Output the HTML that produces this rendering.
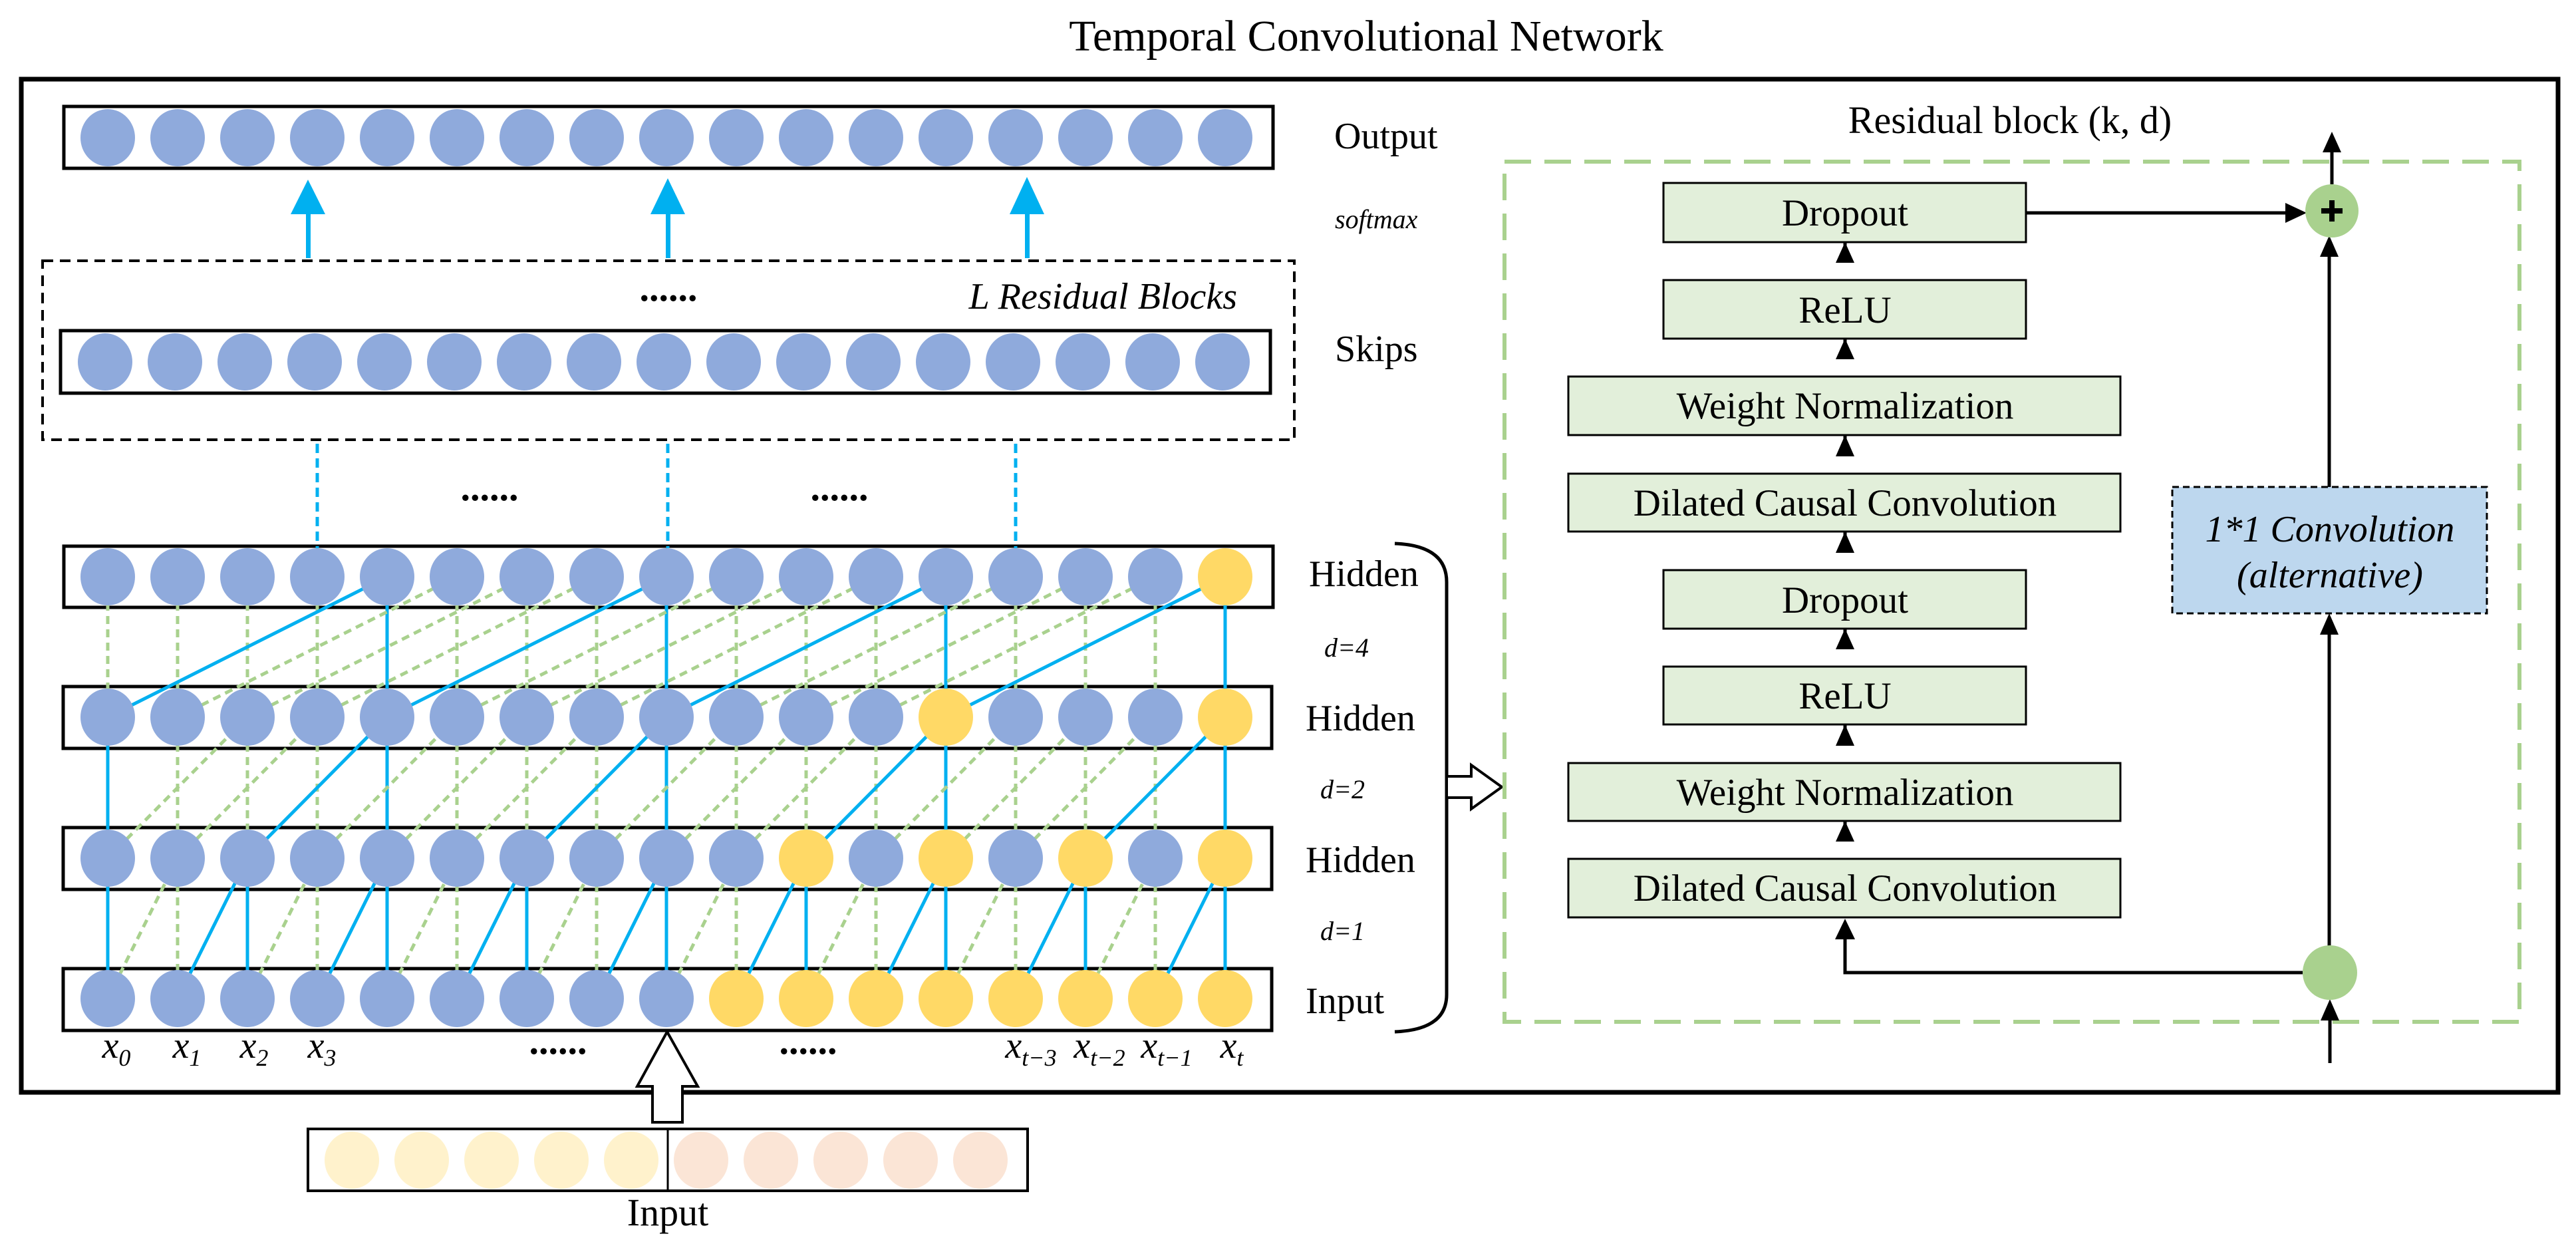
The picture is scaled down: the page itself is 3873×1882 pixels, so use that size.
<!DOCTYPE html>
<html><head><meta charset="utf-8">
<style>
html,body{margin:0;padding:0;background:#fff;}
svg{display:block;}
text{font-family:"Liberation Serif",serif;fill:#000;}
</style></head>
<body>
<svg id="s" width="3873" height="1882" viewBox="0 0 3873 1882" xmlns="http://www.w3.org/2000/svg">
<rect x="0" y="0" width="3873" height="1882" fill="#fff"/>
<text x="2054" y="76" font-size="66" text-anchor="middle">Temporal Convolutional Network</text>
<rect x="32" y="119" width="3814" height="1523" fill="none" stroke="#000" stroke-width="7"/>

<rect x="96" y="160" width="1818" height="93" fill="none" stroke="#000" stroke-width="5"/>
<rect x="64" y="392" width="1882" height="269" fill="none" stroke="#000" stroke-width="4" stroke-dasharray="16,10"/>
<rect x="91" y="497" width="1819" height="94" fill="none" stroke="#000" stroke-width="5"/>
<rect x="96" y="821" width="1818" height="92" fill="none" stroke="#000" stroke-width="5"/>
<rect x="95" y="1032" width="1817" height="93" fill="none" stroke="#000" stroke-width="5"/>
<rect x="95" y="1244" width="1817" height="93" fill="none" stroke="#000" stroke-width="5"/>
<rect x="95" y="1456" width="1817" height="93" fill="none" stroke="#000" stroke-width="5"/>

<g id="lines"></g>
<g id="circles"></g>

<g fill="#00B0F0" stroke="none">
<rect x="460" y="318" width="7" height="70"/><polygon points="463,270 437,322 489,322"/>
<rect x="1001" y="318" width="7" height="70"/><polygon points="1004,268 978,322 1030,322"/>
<rect x="1541" y="318" width="7" height="70"/><polygon points="1544,266 1518,322 1570,322"/>
</g>
<g stroke="#00B0F0" stroke-width="5" stroke-dasharray="14,8">
<line x1="477" y1="667" x2="477" y2="824"/>
<line x1="1004" y1="667" x2="1004" y2="824"/>
<line x1="1527" y1="667" x2="1527" y2="824"/>
</g>
<text x="1005" y="452" font-size="58" text-anchor="middle" font-weight="bold">......</text>
<text x="736" y="752" font-size="58" text-anchor="middle" font-weight="bold">......</text>
<text x="1262" y="752" font-size="58" text-anchor="middle" font-weight="bold">......</text>
<text x="1860" y="464" font-size="56" font-style="italic" text-anchor="end">L Residual Blocks</text>

<g font-size="56" font-style="italic">
<text x="175" y="1590" text-anchor="middle">x<tspan font-size="36" dy="12">0</tspan></text>
<text x="281" y="1590" text-anchor="middle">x<tspan font-size="36" dy="12">1</tspan></text>
<text x="382" y="1590" text-anchor="middle">x<tspan font-size="36" dy="12">2</tspan></text>
<text x="484" y="1590" text-anchor="middle">x<tspan font-size="36" dy="12">3</tspan></text>
<text x="1550" y="1590" text-anchor="middle">x<tspan font-size="36" dy="12">t−3</tspan></text>
<text x="1653" y="1590" text-anchor="middle">x<tspan font-size="36" dy="12">t−2</tspan></text>
<text x="1754" y="1590" text-anchor="middle">x<tspan font-size="36" dy="12">t−1</tspan></text>
<text x="1852" y="1590" text-anchor="middle">x<tspan font-size="36" dy="12">t</tspan></text>
</g>
<text x="839" y="1584" font-size="58" text-anchor="middle" font-weight="bold">......</text>
<text x="1215" y="1584" font-size="58" text-anchor="middle" font-weight="bold">......</text>

<polygon points="1003,1551 1049,1633 1026,1633 1026,1687 981,1687 981,1633 958,1633" fill="#fff" stroke="#000" stroke-width="4"/>

<rect x="463" y="1697" width="1082" height="93" fill="none" stroke="#000" stroke-width="4"/>
<line x1="1004" y1="1697" x2="1004" y2="1790" stroke="#000" stroke-width="3"/>
<g id="bin"></g>
<text x="1004" y="1842" font-size="58" text-anchor="middle">Input</text>

<g font-size="56">
<text x="2006" y="223">Output</text>
<text x="2007" y="543">Skips</text>
<text x="1968" y="881">Hidden</text>
<text x="1963" y="1098">Hidden</text>
<text x="1963" y="1311">Hidden</text>
<text x="1963" y="1523">Input</text>
</g>
<g font-size="40" font-style="italic">
<text x="2007" y="343">softmax</text>
<text x="1991" y="987">d=4</text>
<text x="1985" y="1200">d=2</text>
<text x="1985" y="1413">d=1</text>
</g>
<path d="M2097,817 Q2175,820 2175,875 L2175,1495 Q2175,1548 2097,1551" fill="none" stroke="#000" stroke-width="5"/>
<polygon points="2175,1167 2212,1167 2212,1150 2258,1183 2212,1216 2212,1199 2175,1199" fill="#fff" stroke="#000" stroke-width="4"/>

<text x="3022" y="200" font-size="58" text-anchor="middle">Residual block (k, d)</text>
<rect x="2262" y="243" width="1526" height="1293" fill="none" stroke="#A9D18E" stroke-width="6" stroke-dasharray="40,20"/>
<g fill="#E2EFDA" stroke="#000" stroke-width="3">
<rect x="2501" y="275" width="545" height="89"/>
<rect x="2501" y="421" width="545" height="88"/>
<rect x="2358" y="566" width="830" height="88"/>
<rect x="2358" y="712" width="830" height="87"/>
<rect x="2501" y="857" width="545" height="88"/>
<rect x="2501" y="1002" width="545" height="87"/>
<rect x="2358" y="1147" width="830" height="87"/>
<rect x="2358" y="1291" width="830" height="88"/>
</g>
<g font-size="57" text-anchor="middle">
<text x="2774" y="339">Dropout</text>
<text x="2774" y="485">ReLU</text>
<text x="2774" y="629">Weight Normalization</text>
<text x="2774" y="775">Dilated Causal Convolution</text>
<text x="2774" y="921">Dropout</text>
<text x="2774" y="1065">ReLU</text>
<text x="2774" y="1210">Weight Normalization</text>
<text x="2774" y="1354">Dilated Causal Convolution</text>
</g>
<g stroke="#000" stroke-width="5" fill="none">
<line x1="2774" y1="364" x2="2774" y2="395"/>
<line x1="2774" y1="509" x2="2774" y2="540"/>
<line x1="2774" y1="654" x2="2774" y2="686"/>
<line x1="2774" y1="799" x2="2774" y2="831"/>
<line x1="2774" y1="945" x2="2774" y2="976"/>
<line x1="2774" y1="1089" x2="2774" y2="1121"/>
<line x1="2774" y1="1234" x2="2774" y2="1265"/>
<polyline points="3462,1462 2774,1462 2774,1405"/>
<line x1="3046" y1="320" x2="3440" y2="320"/>
<line x1="3502" y1="1422" x2="3502" y2="948"/>
<line x1="3502" y1="732" x2="3502" y2="382"/>
<line x1="3506" y1="277" x2="3506" y2="225"/>
<line x1="3503" y1="1598" x2="3503" y2="1528"/>
</g>
<g fill="#000">
<polygon points="2774,364 2760,395 2788,395"/>
<polygon points="2774,509 2760,540 2788,540"/>
<polygon points="2774,654 2760,686 2788,686"/>
<polygon points="2774,799 2760,831 2788,831"/>
<polygon points="2774,945 2760,976 2788,976"/>
<polygon points="2774,1089 2760,1121 2788,1121"/>
<polygon points="2774,1234 2760,1265 2788,1265"/>
<polygon points="2774,1381 2759,1412 2789,1412"/>
<polygon points="3468,320 3436,305 3436,335"/>
<polygon points="3502,354 3488,386 3516,386"/>
<polygon points="3502,922 3488,954 3516,954"/>
<polygon points="3506,198 3492,229 3520,229"/>
<polygon points="3503,1502 3489,1534 3517,1534"/>
</g>
<rect x="3266" y="732" width="473" height="190" fill="#BDD7EE" stroke="#000" stroke-width="3" stroke-dasharray="10,6"/>
<g font-size="56" font-style="italic" text-anchor="middle">
<text x="3503" y="814">1*1 Convolution</text>
<text x="3503" y="883">(alternative)</text>
</g>
<circle cx="3506" cy="317" r="40" fill="#A9D18E"/>
<rect x="3490" y="313" width="32" height="8" fill="#000"/>
<rect x="3502" y="301" width="8" height="32" fill="#000"/>
<circle cx="3503" cy="1462" r="41" fill="#A9D18E"/>
</svg>
<script>
(function(){
var NS="http://www.w3.org/2000/svg";
var L=document.getElementById('lines'),C=document.getElementById('circles'),B=document.getElementById('bin');
function X(i){return 162+105*i;}
function el(p,t,a){var e=document.createElementNS(NS,t);for(var k in a)e.setAttribute(k,a[k]);p.appendChild(e);return e;}
var BL="#8FAADC",YE="#FFD966";
var rows=[207,544,867,1078,1290,1501];
var yellow={2:[16],3:[12,16],4:[10,12,14,16],5:[9,10,11,12,13,14,15,16]};
var layers=[[1501,1290,1],[1290,1078,2],[1078,867,4]];
layers.forEach(function(l){
 var y0=l[0],y1=l[1],d=l[2];
 for(var j=0;j<17;j++){
  var vs,ds;
  if(d==1){vs=(j%2==0);ds=(j%2==0&&j>=2);}
  else if(d==2){vs=(j%4==0);ds=(j%4==0&&j>=4);}
  else {vs=(j%4==0&&j>=4);ds=(j%4==0&&j>=4);}
  if(vs) el(L,'line',{x1:X(j),y1:y0,x2:X(j),y2:y1,stroke:"#00B0F0","stroke-width":5});
  else el(L,'line',{x1:X(j),y1:y0,x2:X(j),y2:y1,stroke:"#A9D18E","stroke-width":5,"stroke-dasharray":"12,8"});
  if(j-d>=0){
   if(ds) el(L,'line',{x1:X(j-d),y1:y0,x2:X(j),y2:y1,stroke:"#00B0F0","stroke-width":5});
   else el(L,'line',{x1:X(j-d),y1:y0,x2:X(j),y2:y1,stroke:"#A9D18E","stroke-width":5,"stroke-dasharray":"12,8"});
  }
 }
});
rows.forEach(function(y,r){
 var ys=yellow[r]||[];
 for(var i=0;i<17;i++){
  el(C,'ellipse',{cx:X(i)-(r==1?4:0),cy:y,rx:41,ry:43,fill:ys.indexOf(i)>=0?YE:BL});
 }
});
for(var i=0;i<10;i++){
 el(B,'ellipse',{cx:529+105*i,cy:1744,rx:41,ry:43,fill:i<5?"#FFF2CC":"#FBE5D6"});
}
})();
</script>
</body></html>
